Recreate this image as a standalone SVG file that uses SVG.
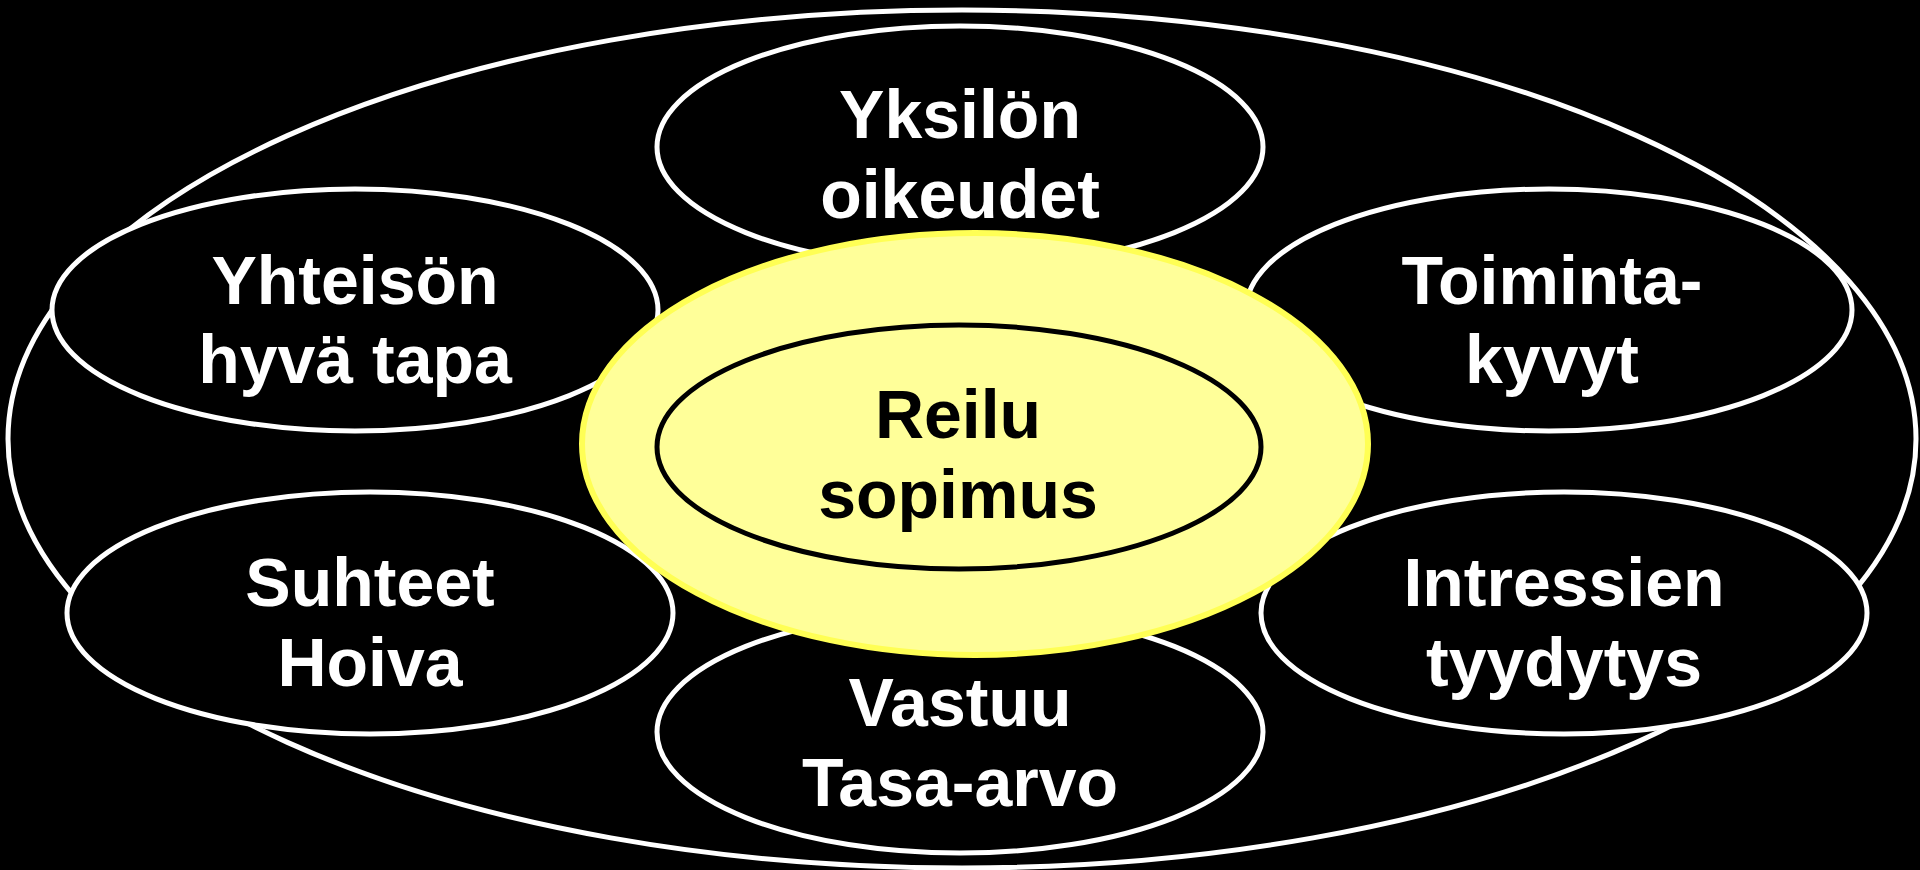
<svg xmlns="http://www.w3.org/2000/svg" width="1920" height="870" viewBox="0 0 1920 870">
<style>
.bg{fill:#000}
.ring{fill:#000;stroke:#fff;stroke-width:5}
.core{fill:#FFFF99;stroke:#FFFF55;stroke-width:6}
.inner{fill:none;stroke:#000;stroke-width:5}
.lw{font-family:"Liberation Sans",Arial,sans-serif;font-weight:bold;font-size:68px;fill:#fff;text-anchor:middle}
.lb{font-family:"Liberation Sans",Arial,sans-serif;font-weight:bold;font-size:68px;fill:#000;text-anchor:middle}
</style>
<rect class="bg" x="0" y="0" width="1920" height="870"/>
<g id="outer">
<ellipse class="ring" cx="962" cy="439" rx="954" ry="429"/>
</g>
<g id="yksilon">
<ellipse class="ring" cx="960" cy="147" rx="303" ry="121"/>
<text class="lw" x="960" y="138">Yksilön</text>
<text class="lw" x="960" y="218">oikeudet</text>
</g>
<g id="yhteison">
<ellipse class="ring" cx="355" cy="310" rx="303" ry="121"/>
<text class="lw" x="355" y="304">Yhteisön</text>
<text class="lw" x="355" y="383">hyvä tapa</text>
</g>
<g id="toiminta">
<ellipse class="ring" cx="1549" cy="310" rx="303" ry="121"/>
<text class="lw" x="1552" y="304">Toiminta-</text>
<text class="lw" x="1552" y="383">kyvyt</text>
</g>
<g id="suhteet">
<ellipse class="ring" cx="370" cy="613" rx="303" ry="121"/>
<text class="lw" x="370" y="606">Suhteet</text>
<text class="lw" x="370" y="686">Hoiva</text>
</g>
<g id="intressien">
<ellipse class="ring" cx="1564" cy="613" rx="303" ry="121"/>
<text class="lw" x="1564" y="606">Intressien</text>
<text class="lw" x="1564" y="686">tyydytys</text>
</g>
<g id="vastuu">
<ellipse class="ring" cx="960" cy="732" rx="303" ry="121"/>
<text class="lw" x="960" y="726">Vastuu</text>
<text class="lw" x="960" y="806">Tasa-arvo</text>
</g>
<g id="reilu">
<ellipse class="core" cx="975" cy="444" rx="393" ry="211"/>
<ellipse class="inner" cx="959" cy="447" rx="302" ry="122"/>
<text class="lb" x="958" y="438">Reilu</text>
<text class="lb" x="958" y="518">sopimus</text>
</g>
<g id="connectors"></g>
</svg>
